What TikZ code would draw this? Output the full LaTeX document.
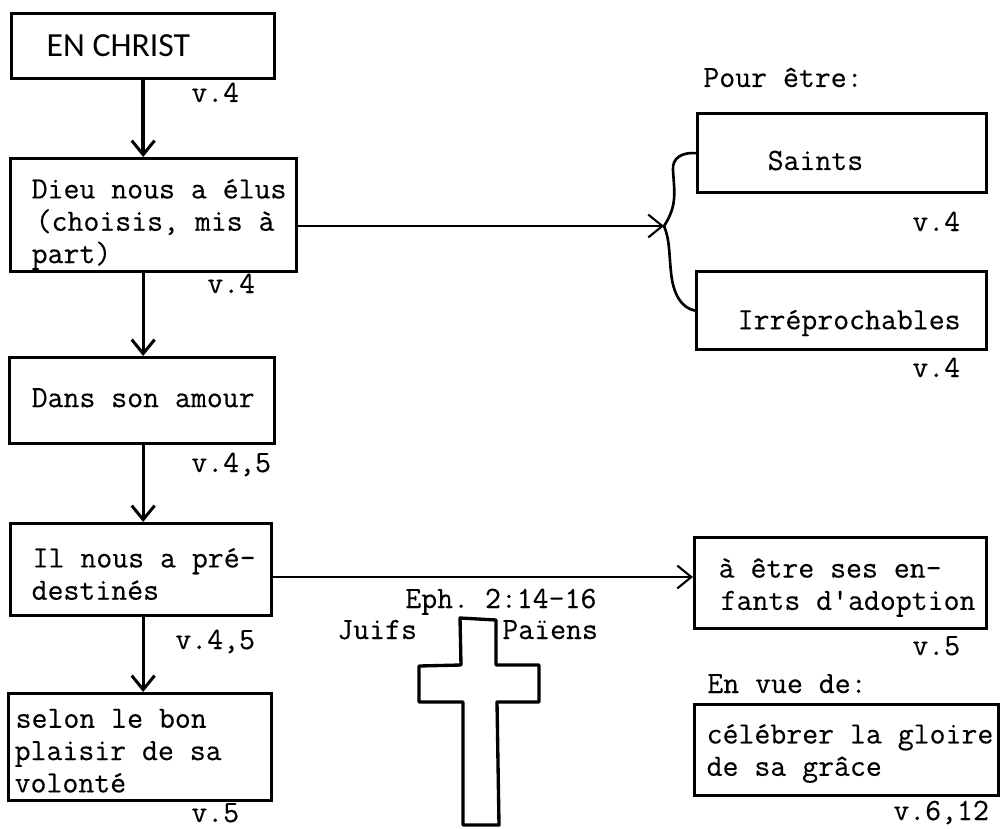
\documentclass[tikz,border=0pt]{standalone}
\usepackage{fontspec}
\usepackage{tikz}
\usetikzlibrary{arrows.meta}
\newfontfamily\capsfont{Carlito}
\newfontfamily\typedfont[FakeBold=0.3]{Latin Modern Mono}
\newlength\px
\setlength\px{0.02cm}
\newcommand\tall[1]{\rule{0pt}{#1\px}}
\newcommand\deep[1]{\rule[-#1\px]{0pt}{#1\px}}
\tikzset{
	frame/.style 2 args={draw=black,line width=1.9pt,anchor=north west,inner sep=0pt,align=flush left,
		minimum width=#1*0.02cm,minimum height=#2*0.02cm,text width=#1*0.02cm},
	note/.style={anchor=base west,inner sep=0pt},
	flow/.style={line width=1.7pt,-{Straight Barb[length=8pt,width=13pt,line width=1.7pt]}},
	thin flow/.style={line width=1.2pt,-{Straight Barb[length=8pt,width=13pt,line width=1.2pt]}},
	curl/.style={line width=1.5pt}
}
\begin{document}
\begin{tikzpicture}[x=0.02cm,y=-0.02cm,font=\fontsize{17.6}{18.4}\selectfont\typedfont\frenchspacing]
	\useasboundingbox (0,0) rectangle (1000,828);
	% left column
	\node (christ) [frame={263}{65}] at (10,12) {\hspace*{35\px}{\capsfont\fontsize{19.2}{24}\selectfont EN CHRIST}};
	\node (elus) [frame={286}{113}] at (9,157) {\tall{38}\hspace*{21\px}Dieu nous a élus\\\hspace*{25\px}(choisis, mis à\\\hspace*{21\px}part)};
	\node (amour) [frame={265}{86}] at (8,356) {\hspace*{22\px}Dans son amour\deep{6}};
	\node (predestines) [frame={261}{92}] at (9,522) {\tall{28}\hspace*{22\px}Il nous a pré-\\\hspace*{21\px}destinés};
	\node (plaisir) [frame={263}{107}] at (7,692) {\tall{26}\hspace*{7\px}selon le bon\\\hspace*{6\px}plaisir de sa\\\hspace*{6\px}volonté};
	% right column
	\node (saints) [frame={289}{79}] at (696,112) {\tall{34}\hspace*{70\px}Saints};
	\node (irreprochables) [frame={290}{78}] at (695,270) {\tall{44}\hspace*{41\px}Irréprochables};
	\node (adoption) [frame={292}{91}] at (693,536) {\tall{28}\hspace*{24\px}à être ses en-\\\hspace*{26\px}fants d'adoption};
	\node (gloire) [frame={304}{91}] at (693,703) {\tall{26}\hspace*{12\px}célébrer la gloire\\\hspace*{12\px}de sa grâce};
	% connectors
	\coordinate (fork) at (664,226);
	\coordinate (midline) at (0,577);
	\draw[flow,line width=2.2pt] (christ.south) -- (christ.south |- elus.north);
	\draw[flow] (christ.south |- elus.south) -- (christ.south |- amour.north);
	\draw[flow] (christ.south |- amour.south) -- (christ.south |- predestines.north);
	\draw[flow] (christ.south |- predestines.south) -- (christ.south |- plaisir.north);
	\draw[thin flow] (elus.east |- fork) -- (fork);
	\draw[thin flow] (predestines.east |- midline) -- (adoption.west |- midline);
	\draw[curl] (saints.west) .. controls (682,152) and (672,158) .. (673,170) .. controls (674,190) and (678,205) .. (fork);
	\draw[curl] (fork) .. controls (670,240) and (669,255) .. (671,272) .. controls (673,295) and (682,308) .. (irreprochables.west);
	% references
	\node (v1) [note] at (191,102) {v.4};
	\node (v2) [note] at (207,293) {v.4};
	\node (v3) [note] at (191,472) {v.4,5};
	\node (v4) [note] at (175,649) {v.4,5};
	\node (v5) [note] at (191,822) {v.5};
	\node (v6) [note] at (912,231) {v.4};
	\node (v7) [note] at (912,377) {v.4};
	\node (v8) [note] at (912,655) {v.5};
	\node (v9) [note] at (893,820) {v.6,12};
	\node (pour) [note] at (703,87) {Pour être:};
	\node (vue) [note] at (707,693) {En vue de:};
	% cross
	\node (eph) [note] at (405,608) {Eph. 2:14-16};
	\node (juifs) [note] at (337,639) {Juifs};
	\node (paiens) [note] at (502,639) {Païens};
	\draw[line width=1.9pt,line join=round] (460,618) -- (496,620) -- (496,665) -- (539,665) -- (539,702) -- (497,702)
		-- (499,825) -- (463,825) -- (463,702) -- (419,702) -- (419,666) -- (461,665) -- cycle;
\end{tikzpicture}
\end{document}
